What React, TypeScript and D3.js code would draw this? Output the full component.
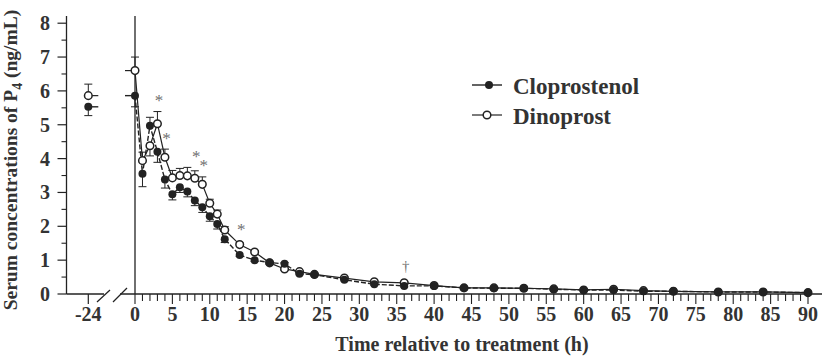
import React from "react";
import * as d3 from "d3";

// ---- data ----
const times = [0, 1, 2, 3, 4, 5, 6, 7, 8, 9, 10, 11, 12, 14, 16, 18, 20, 22, 24, 28, 32, 36, 40, 44, 48, 52, 56, 60, 64, 68, 72, 78, 84, 90];
const cloprostenol = [5.86, 3.55, 4.97, 4.2, 3.38, 2.95, 3.15, 3.03, 2.76, 2.56, 2.3, 2.07, 1.62, 1.15, 1.0, 0.93, 0.89, 0.6, 0.57, 0.42, 0.29, 0.24, 0.24, 0.18, 0.17, 0.17, 0.14, 0.12, 0.12, 0.08, 0.08, 0.06, 0.06, 0.04];
const cloprostenolSem = [0.33, 0.38, 0.25, 0.31, 0.25, 0.17, 0.15, 0.16, 0.15, 0.15, 0.15, 0.15, 0.1, 0.04, 0.04, 0.04, 0.04, 0.03, 0.03, 0.03, 0.03, 0.03, 0.03, 0.02, 0.02, 0.02, 0.02, 0.02, 0.02, 0.02, 0.02, 0.02, 0.02, 0.02];
const dinoprost = [6.6, 3.94, 4.38, 5.03, 4.04, 3.43, 3.5, 3.49, 3.42, 3.24, 2.68, 2.36, 1.89, 1.46, 1.24, 0.92, 0.74, 0.66, 0.58, 0.47, 0.36, 0.33, 0.25, 0.18, 0.18, 0.17, 0.15, 0.12, 0.14, 0.1, 0.08, 0.06, 0.06, 0.04];
const dinoprostSem = [0.4, 0.25, 0.3, 0.36, 0.24, 0.22, 0.21, 0.25, 0.22, 0.22, 0.12, 0.12, 0.1, 0.05, 0.04, 0.04, 0.04, 0.03, 0.03, 0.03, 0.03, 0.03, 0.03, 0.02, 0.02, 0.02, 0.02, 0.02, 0.02, 0.02, 0.02, 0.02, 0.02, 0.02];
const preTime = -24;
const preCloprostenol = 5.53;
const preCloprostenolSem = 0.26;
const preDinoprost = 5.86;
const preDinoprostSem = 0.34;

const annotTimes = [3, 4, 8, 9, 14, 36];
const annotValues = [5.78, 4.67, 4.13, 3.88, 1.98, 0.87];
const annotSymbols = ["*", "*", "*", "*", "*", "†"];

const yTicks = [0, 1, 2, 3, 4, 5, 6, 7, 8];
const xTicks = [0, 5, 10, 15, 20, 25, 30, 35, 40, 45, 50, 55, 60, 65, 70, 75, 80, 85, 90];
const seriesNames = ["Cloprostenol", "Dinoprost"];

const FONT = "'Liberation Serif', 'Times New Roman', serif";
const TEXT = "#333";
const LINE = "#222";

export default function App() {
  const W = 825, H = 357;
  const x = d3.scaleLinear().domain([0, 90]).range([135, 808]);
  const xPre = d3.scaleLinear().domain([-25, -23]).range([80.8, 95.8]);
  const y = d3.scaleLinear().domain([0, 8]).range([294, 23.2]);
  const axisX = 66.5;
  const topY = 16;

  const cData = times.map((t, i) => ({ t, v: cloprostenol[i], s: cloprostenolSem[i] }));
  const dData = times.map((t, i) => ({ t, v: dinoprost[i], s: dinoprostSem[i] }));
  const line = d3.line<{ t: number; v: number }>().x(d => x(d.t)).y(d => y(d.v));

  const minorX = d3.range(0, 91, 1);
  const minorY = d3.range(0.5, 8, 1);

  const errBar = (cx: number, v: number, s: number, dir: number, key: string) => {
    const y1 = y(v + dir * s);
    return (
      <g key={key} stroke={LINE} strokeWidth={1}>
        <line x1={cx} x2={cx} y1={y(v)} y2={y1} />
        <line x1={cx - 4} x2={cx + 4} y1={y1} y2={y1} />
      </g>
    );
  };

  const bars: JSX.Element[] = [];
  times.forEach((t, i) => {
    const cHigher = cloprostenol[i] > dinoprost[i];
    bars.push(errBar(x(t), cloprostenol[i], cloprostenolSem[i], cHigher ? 1 : -1, "ce" + i));
    bars.push(errBar(x(t), dinoprost[i], dinoprostSem[i], cHigher ? -1 : 1, "de" + i));
  });
  bars.push(errBar(xPre(preTime), preCloprostenol, preCloprostenolSem, -1, "cpre"));
  bars.push(errBar(xPre(preTime), preDinoprost, preDinoprostSem, 1, "dpre"));

  return (
    <svg width={W} height={H} style={{ position: "absolute", left: 0, top: 0, background: "#fff" }}>
      <rect width={W} height={H} fill="#fff" />
      {/* y axis */}
      <line x1={axisX} x2={axisX} y1={topY} y2={294} stroke={LINE} strokeWidth={1.3} />
      {yTicks.map(v => (
        <g key={"yt" + v}>
          <line x1={axisX - 9} x2={axisX} y1={y(v)} y2={y(v)} stroke={LINE} strokeWidth={1.2} />
          <text x={50} y={y(v) + 7} textAnchor="end" fontFamily={FONT} fontWeight="bold" fontSize={20} fill={TEXT}>{v}</text>
        </g>
      ))}
      {minorY.map(v => (
        <line key={"ym" + v} x1={axisX - 5} x2={axisX} y1={y(v)} y2={y(v)} stroke={LINE} strokeWidth={1.1} />
      ))}
      {/* zero-time vertical line */}
      <line x1={x(0)} x2={x(0)} y1={topY} y2={294} stroke={LINE} strokeWidth={1.3} />
      {/* x axis with break */}
      <line x1={axisX} x2={104} y1={294} y2={294} stroke={LINE} strokeWidth={1.3} />
      <line x1={120} x2={822} y1={294} y2={294} stroke={LINE} strokeWidth={1.3} />
      <line x1={97} x2={110} y1={302} y2={290} stroke={LINE} strokeWidth={1.2} />
      <line x1={113} x2={127} y1={302} y2={288} stroke={LINE} strokeWidth={1.2} />
      <line x1={xPre(preTime)} x2={xPre(preTime)} y1={294} y2={304} stroke={LINE} strokeWidth={1.2} />
      <text x={xPre(preTime)} y={321} textAnchor="middle" fontFamily={FONT} fontWeight="bold" fontSize={20} fill={TEXT}>-24</text>
      {minorX.map(t => (
        <line key={"xm" + t} x1={x(t)} x2={x(t)} y1={294} y2={t % 5 === 0 ? 304 : 301} stroke={LINE} strokeWidth={1.1} />
      ))}
      {xTicks.map(t => (
        <text key={"xl" + t} x={x(t)} y={321} textAnchor="middle" fontFamily={FONT} fontWeight="bold" fontSize={20} fill={TEXT}>{t}</text>
      ))}
      {/* axis titles */}
      <text x={462} y={351} textAnchor="middle" fontFamily={FONT} fontWeight="bold" fontSize={20} fill={TEXT}>Time relative to treatment (h)</text>
      <text transform="translate(17,160) rotate(-90)" textAnchor="middle" fontFamily={FONT} fontWeight="bold" fontSize={19.5} fill={TEXT}>
        Serum concentrations of P<tspan fontSize={14} dy={5}>4</tspan><tspan dy={-5}> (ng/mL)</tspan>
      </text>

      {/* error bars */}
      {bars}

      {/* lines */}
      <path d={line(dData) || ""} fill="none" stroke={LINE} strokeWidth={1.2} />
      <path d={line(cData) || ""} fill="none" stroke={LINE} strokeWidth={1.4} strokeDasharray="5,2" />
      {/* stubs around break */}
      <line x1={xPre(preTime)} x2={xPre(preTime) + 10} y1={y(preCloprostenol)} y2={y(preCloprostenol)} stroke={LINE} strokeWidth={1.4} />
      <line x1={xPre(preTime)} x2={xPre(preTime) + 10} y1={y(preDinoprost)} y2={y(preDinoprost)} stroke={LINE} strokeWidth={1.2} />
      <line x1={x(0) - 10} x2={x(0)} y1={y(cloprostenol[0])} y2={y(cloprostenol[0])} stroke={LINE} strokeWidth={1.4} />
      <line x1={x(0) - 10} x2={x(0)} y1={y(dinoprost[0])} y2={y(dinoprost[0])} stroke={LINE} strokeWidth={1.2} />

      {/* markers */}
      {dData.map((d, i) => (
        <circle key={"dm" + i} cx={x(d.t)} cy={y(d.v)} r={3.8} fill="#fff" stroke={LINE} strokeWidth={1.5} />
      ))}
      {cData.map((d, i) => (
        <circle key={"cm" + i} cx={x(d.t)} cy={y(d.v)} r={4} fill={LINE} />
      ))}
      <circle cx={xPre(preTime)} cy={y(preDinoprost)} r={3.8} fill="#fff" stroke={LINE} strokeWidth={1.5} />
      <circle cx={xPre(preTime)} cy={y(preCloprostenol)} r={4} fill={LINE} />

      {/* significance annotations */}
      {annotTimes.map((t, i) => (
        <text key={"an" + i} x={x(t) + 1.5} y={y(annotValues[i]) + (annotSymbols[i] === "*" ? 8 : 6)} textAnchor="middle"
          fontFamily={FONT} fontSize={annotSymbols[i] === "*" ? 17 : 15} fill="#707070">{annotSymbols[i]}</text>
      ))}

      {/* legend */}
      <g>
        <line x1={472} x2={502} y1={85} y2={85} stroke={LINE} strokeWidth={1.4} />
        <circle cx={489} cy={85} r={4} fill={LINE} />
        <text x={513} y={94} fontFamily={FONT} fontWeight="bold" fontSize={23} fill={TEXT}>{seriesNames[0]}</text>
        <line x1={472} x2={502} y1={115} y2={115} stroke={LINE} strokeWidth={1.2} />
        <circle cx={487} cy={115} r={3.8} fill="#fff" stroke={LINE} strokeWidth={1.5} />
        <text x={513} y={124} fontFamily={FONT} fontWeight="bold" fontSize={23} fill={TEXT}>{seriesNames[1]}</text>
      </g>
    </svg>
  );
}
